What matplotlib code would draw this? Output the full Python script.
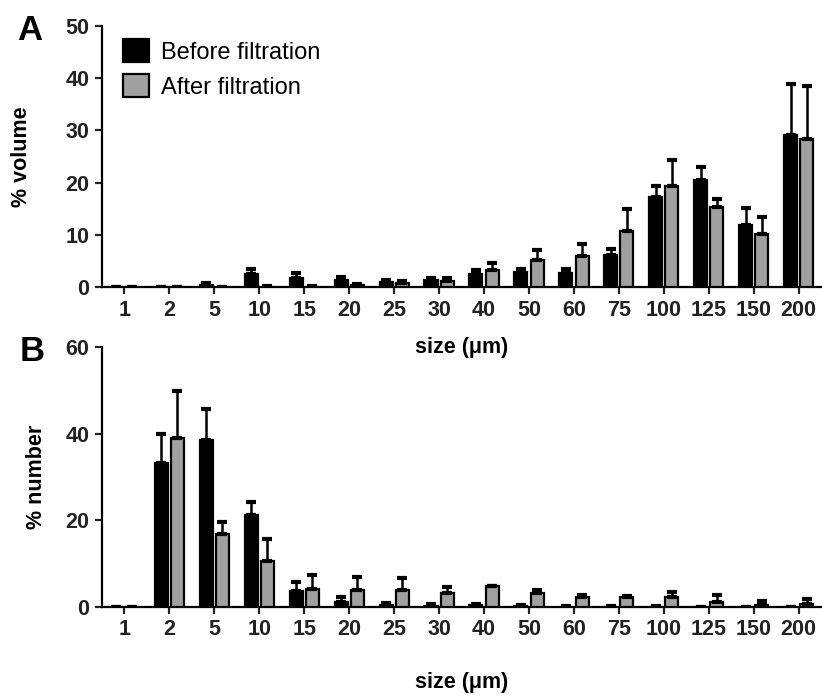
import numpy as np
import matplotlib.pyplot as plt

plt.rcParams['font.family'] = ['Liberation Sans', 'DejaVu Sans']

# size classes (um)
sizes = ['1', '2', '5', '10', '15', '20', '25', '30', '40', '50', '60', '75', '100', '125', '150', '200']

# panel A: % volume, mean and upper SD
vol_before = [0, 0.05, 0.4, 2.5, 1.8, 1.3, 0.9, 1.3, 2.5, 2.9, 2.7, 6.1, 17.2, 20.5, 11.9, 29.1]
vol_before_err = [0, 0.05, 0.3, 0.9, 0.8, 0.6, 0.5, 0.5, 0.8, 0.5, 0.7, 1.1, 2.1, 2.4, 3.3, 9.7]
vol_after = [0, 0, 0.05, 0.1, 0.1, 0.3, 0.8, 1.1, 3.3, 5.2, 6.0, 10.7, 19.4, 15.3, 10.2, 28.3]
vol_after_err = [0, 0, 0.05, 0.05, 0.1, 0.2, 0.4, 0.7, 1.3, 1.9, 2.2, 4.2, 4.9, 1.6, 3.3, 10.3]

# panel B: % number, mean and upper SD
num_before = [0, 33.2, 38.6, 21.2, 3.7, 1.2, 0.5, 0.3, 0.4, 0.2, 0.1, 0.1, 0.1, 0.05, 0.05, 0.05]
num_before_err = [0, 6.7, 7.1, 3.0, 2.0, 1.0, 0.5, 0.3, 0.3, 0.2, 0.1, 0.1, 0.1, 0.05, 0.05, 0.05]
num_after = [0, 38.9, 16.8, 10.5, 4.2, 4.0, 4.0, 3.2, 4.8, 3.3, 2.4, 2.3, 2.2, 1.2, 0.5, 0.7]
num_after_err = [0, 11.0, 2.9, 5.3, 3.2, 3.0, 2.6, 1.5, 0.1, 0.6, 0.4, 0.3, 1.3, 1.5, 0.9, 1.2]

black = '#000000'
gray = '#a0a0a0'

fig = plt.figure(figsize=(8.22, 6.96), dpi=100)
axA = fig.add_axes([0.124, 0.5876, 0.875, 0.375])
axB = fig.add_axes([0.124, 0.1279, 0.875, 0.3735])
axB.patch.set_visible(False)

x = np.arange(len(sizes))
w = 0.29
off = 0.18


def draw(ax, b, be, a, ae, ymax, yticks, ylabel):
    zb = np.zeros(len(b))
    ax.bar(x - off, b, w, color=black, edgecolor='black', linewidth=1.6,
           yerr=[zb, be], error_kw=dict(ecolor='black', elinewidth=1.8, capsize=3.5, capthick=3),
           label='Before filtration', zorder=3)
    ax.bar(x + off, a, w, color=gray, edgecolor='black', linewidth=1.6,
           yerr=[zb, ae], error_kw=dict(ecolor='black', elinewidth=1.8, capsize=3.5, capthick=3),
           label='After filtration', zorder=3)
    ax.set_xlim(-0.5, len(sizes) - 0.5)
    ax.set_ylim(0, ymax)
    ax.set_yticks(yticks)
    ax.set_xticks(x)
    ax.set_xticklabels(sizes)
    for s in ['top', 'right']:
        ax.spines[s].set_visible(False)
    for s in ['left', 'bottom']:
        ax.spines[s].set_linewidth(1.6)
    ax.tick_params(width=1.6, length=5, pad=4, labelsize=15.5, colors='#222222', labelcolor='#222222')
    for lab in ax.get_xticklabels() + ax.get_yticklabels():
        lab.set_fontweight('bold')
    ax.set_ylabel(ylabel, fontsize=15.5, fontweight='bold')
    ax.set_xlabel('size (\u03bcm)', fontsize=15.5, fontweight='bold', va='top')


draw(axA, vol_before, vol_before_err, vol_after, vol_after_err, 50, [0, 10, 20, 30, 40, 50], '% volume')
draw(axB, num_before, num_before_err, num_after, num_after_err, 60, [0, 20, 40, 60], '% number')

axA.yaxis.set_label_coords(-0.097, 0.5)
axB.yaxis.set_label_coords(-0.077, 0.5)
axA.xaxis.set_label_coords(0.5, -0.19)
axB.xaxis.set_label_coords(0.5, -0.25)

axA.legend(loc='upper left', bbox_to_anchor=(0.0, 1.03), frameon=False, fontsize=17,
           handlelength=1.1, handleheight=1.1, handletextpad=0.5, labelspacing=0.45)

fig.text(0.021, 0.98, 'A', fontsize=25, fontweight='bold', va='top')
fig.text(0.024, 0.518, 'B', fontsize=25, fontweight='bold', va='top')

fig.savefig('out.png', dpi=100)
